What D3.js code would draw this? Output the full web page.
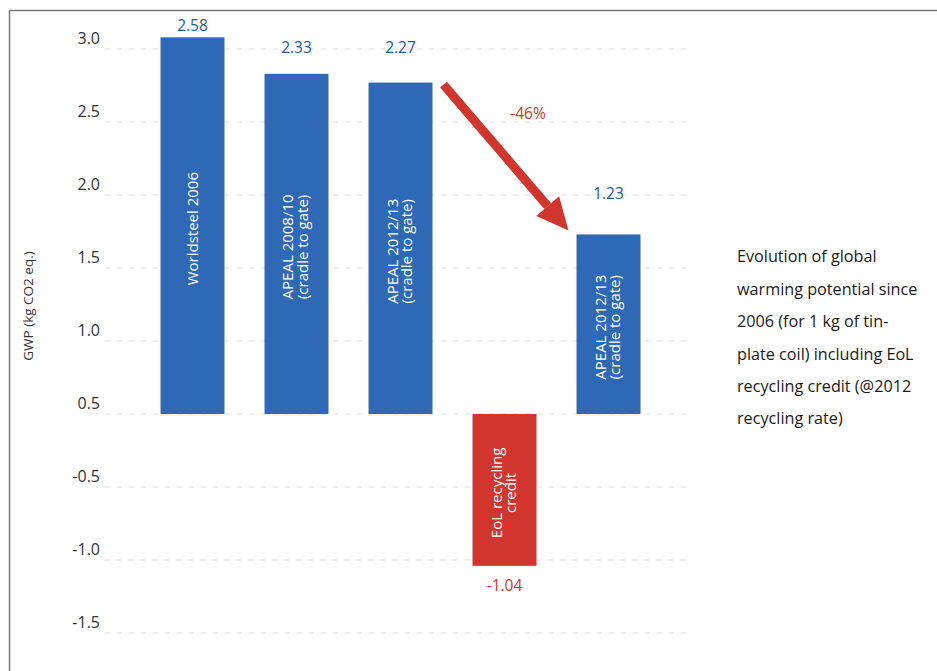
<!DOCTYPE html>
<html lang="en">
<head>
  <meta charset="UTF-8">
  <title>GWP evolution</title>
  <script src="https://cdn.jsdelivr.net/npm/d3@7"></script>
  <style>
    body { margin: 0; background: #fff; }
    text { font-family: "Open Sans", "Noto Sans", sans-serif; }
  </style>
</head>
<body>
  <svg width="937" height="671"></svg>

  <script>
    // data
    var categories = ["Worldsteel 2006", "APEAL 2008/10", "APEAL 2012/13", "EoL recycling", "APEAL 2012/13 EoL"];
    var barLines = [
      ["Worldsteel 2006"],
      ["APEAL 2008/10", "(cradle to gate)"],
      ["APEAL 2012/13", "(cradle to gate)"],
      ["EoL recycling", "credit"],
      ["APEAL 2012/13", "(cradle to gate)"]
    ];
    var values = [2.58, 2.33, 2.27, -1.04, 1.23];
    var valueLabels = ["2.58", "2.33", "2.27", "-1.04", "1.23"];
    // gridlines and the labels printed next to them (as in the original figure)
    var gridValues = [2.5, 2.0, 1.5, 1.0, 0.5, 0, -0.5, -1.0, -1.5];
    var tickLabels = ["3.0", "2.5", "2.0", "1.5", "1.0", "0.5", "-0.5", "-1.0", "-1.5"];
    var changeLabel = "-46%";
    var yTitle = "GWP (kg CO2 eq.)";
    var noteLines = [
      "Evolution of global",
      "warming potential since",
      "2006 (for 1 kg of tin-",
      "plate coil) including EoL",
      "recycling credit (@2012",
      "recycling rate)"
    ];

    var blue = "#2f68b5", red = "#d0352e", blueText = "#1d5aa6";

    var svg = d3.select("svg");

    // frame
    svg.append("path")
      .attr("d", "M9.5,671V10.5H937")
      .attr("fill", "none")
      .attr("stroke", "#7a7a7a")
      .attr("stroke-width", 1.5);

    var x = d3.scaleBand()
      .domain(categories)
      .range([128, 673])
      .paddingInner(0.385)
      .paddingOuter(0.3125);

    var y = d3.scaleLinear()
      .domain([-1.5, 2.5])
      .range([633, 49]);

    // grid
    svg.append("g").selectAll("line")
      .data(gridValues)
      .enter().append("line")
      .attr("x1", 105).attr("x2", 688)
      .attr("y1", function (d) { return y(d); })
      .attr("y2", function (d) { return y(d); })
      .attr("stroke", "#dadde2")
      .attr("stroke-width", 1.2)
      .attr("stroke-dasharray", "5,7");

    svg.append("g").selectAll("text")
      .data(gridValues)
      .enter().append("text")
      .attr("x", 100)
      .attr("y", function (d) { return y(d) - 9; })
      .attr("text-anchor", "end")
      .attr("dominant-baseline", "middle")
      .attr("font-size", 16)
      .attr("fill", "#333")
      .text(function (d, i) { return tickLabels[i]; });

    svg.append("text")
      .attr("transform", "translate(33," + 306 + ") rotate(-90)")
      .attr("text-anchor", "middle")
      .attr("font-size", 13.5)
      .attr("fill", "#333")
      .text(yTitle);

    // bars
    var bars = svg.append("g").selectAll("g")
      .data(values)
      .enter().append("g");

    bars.append("rect")
      .attr("x", function (d, i) { return x(categories[i]); })
      .attr("width", x.bandwidth())
      .attr("y", function (d) { return y(Math.max(0, d)); })
      .attr("height", function (d) { return Math.abs(y(d) - y(0)); })
      .attr("fill", function (d) { return d < 0 ? red : blue; });

    // labels inside bars, rotated
    bars.append("text")
      .attr("transform", function (d, i) {
        var cx = x(categories[i]) + x.bandwidth() / 2;
        var cy = (y(d) + y(0)) / 2 + 3;
        return "translate(" + cx + "," + cy + ") rotate(-90)";
      })
      .attr("text-anchor", "middle")
      .attr("font-size", 15)
      .attr("fill", "#fff")
      .each(function (d, i) {
        var lines = barLines[i], t = d3.select(this);
        lines.forEach(function (l, j) {
          t.append("tspan")
            .attr("x", 0)
            .attr("dy", j == 0 ? (lines.length == 1 ? "0.35em" : "-0.2em") : "0.95em")
            .text(l);
        });
      });

    // value labels: positive ones sit on the grid row above the bar (if room), negative below
    bars.append("text")
      .attr("x", function (d, i) { return x(categories[i]) + x.bandwidth() / 2; })
      .attr("y", function (d) {
        if (d < 0) return y(d) + 21;
        var top = y(d);
        var rows = gridValues.map(y).filter(function (g) { return g <= top - 20; });
        return rows.length ? d3.max(rows) : top - 10;
      })
      .attr("dominant-baseline", "middle")
      .attr("text-anchor", "middle")
      .attr("font-size", 15.5)
      .attr("fill", function (d) { return d < 0 ? red : blueText; })
      .text(function (d, i) { return valueLabels[i]; });

    // arrow from bar 3 to bar 5
    var x0 = x(categories[2]) + x.bandwidth() + 11, y0 = y(values[2]) + 2;
    var x1 = x(categories[4]) - 8, y1 = y(values[4]) - 4;
    var ang = Math.atan2(y1 - y0, x1 - x0);
    var headLen = 32, headW = 15;
    var bx = x1 - headLen * Math.cos(ang), by = y1 - headLen * Math.sin(ang);
    var nx = -Math.sin(ang), ny = Math.cos(ang);

    svg.append("line")
      .attr("x1", x0).attr("y1", y0)
      .attr("x2", bx).attr("y2", by)
      .attr("stroke", red)
      .attr("stroke-width", 9);

    svg.append("path")
      .attr("d", "M" + x1 + "," + y1 +
        "L" + (bx + nx * headW) + "," + (by + ny * headW) +
        "L" + (bx - nx * headW) + "," + (by - ny * headW) + "Z")
      .attr("fill", red);

    svg.append("text")
      .attr("x", (x0 + x1) / 2 + 22)
      .attr("y", (y0 + y1) / 2 - 43)
      .attr("text-anchor", "middle")
      .attr("dominant-baseline", "middle")
      .attr("font-size", 15.5)
      .attr("fill", red)
      .text(changeLabel);

    // side note
    svg.append("g").selectAll("text")
      .data(noteLines)
      .enter().append("text")
      .attr("x", 737)
      .attr("y", function (d, i) { return 258 + i * 32.4; })
      .attr("dominant-baseline", "middle")
      .attr("font-size", 16.2)
      .attr("fill", "#1a1a1a")
      .text(function (d) { return d; });
  </script>
</body>
</html>
